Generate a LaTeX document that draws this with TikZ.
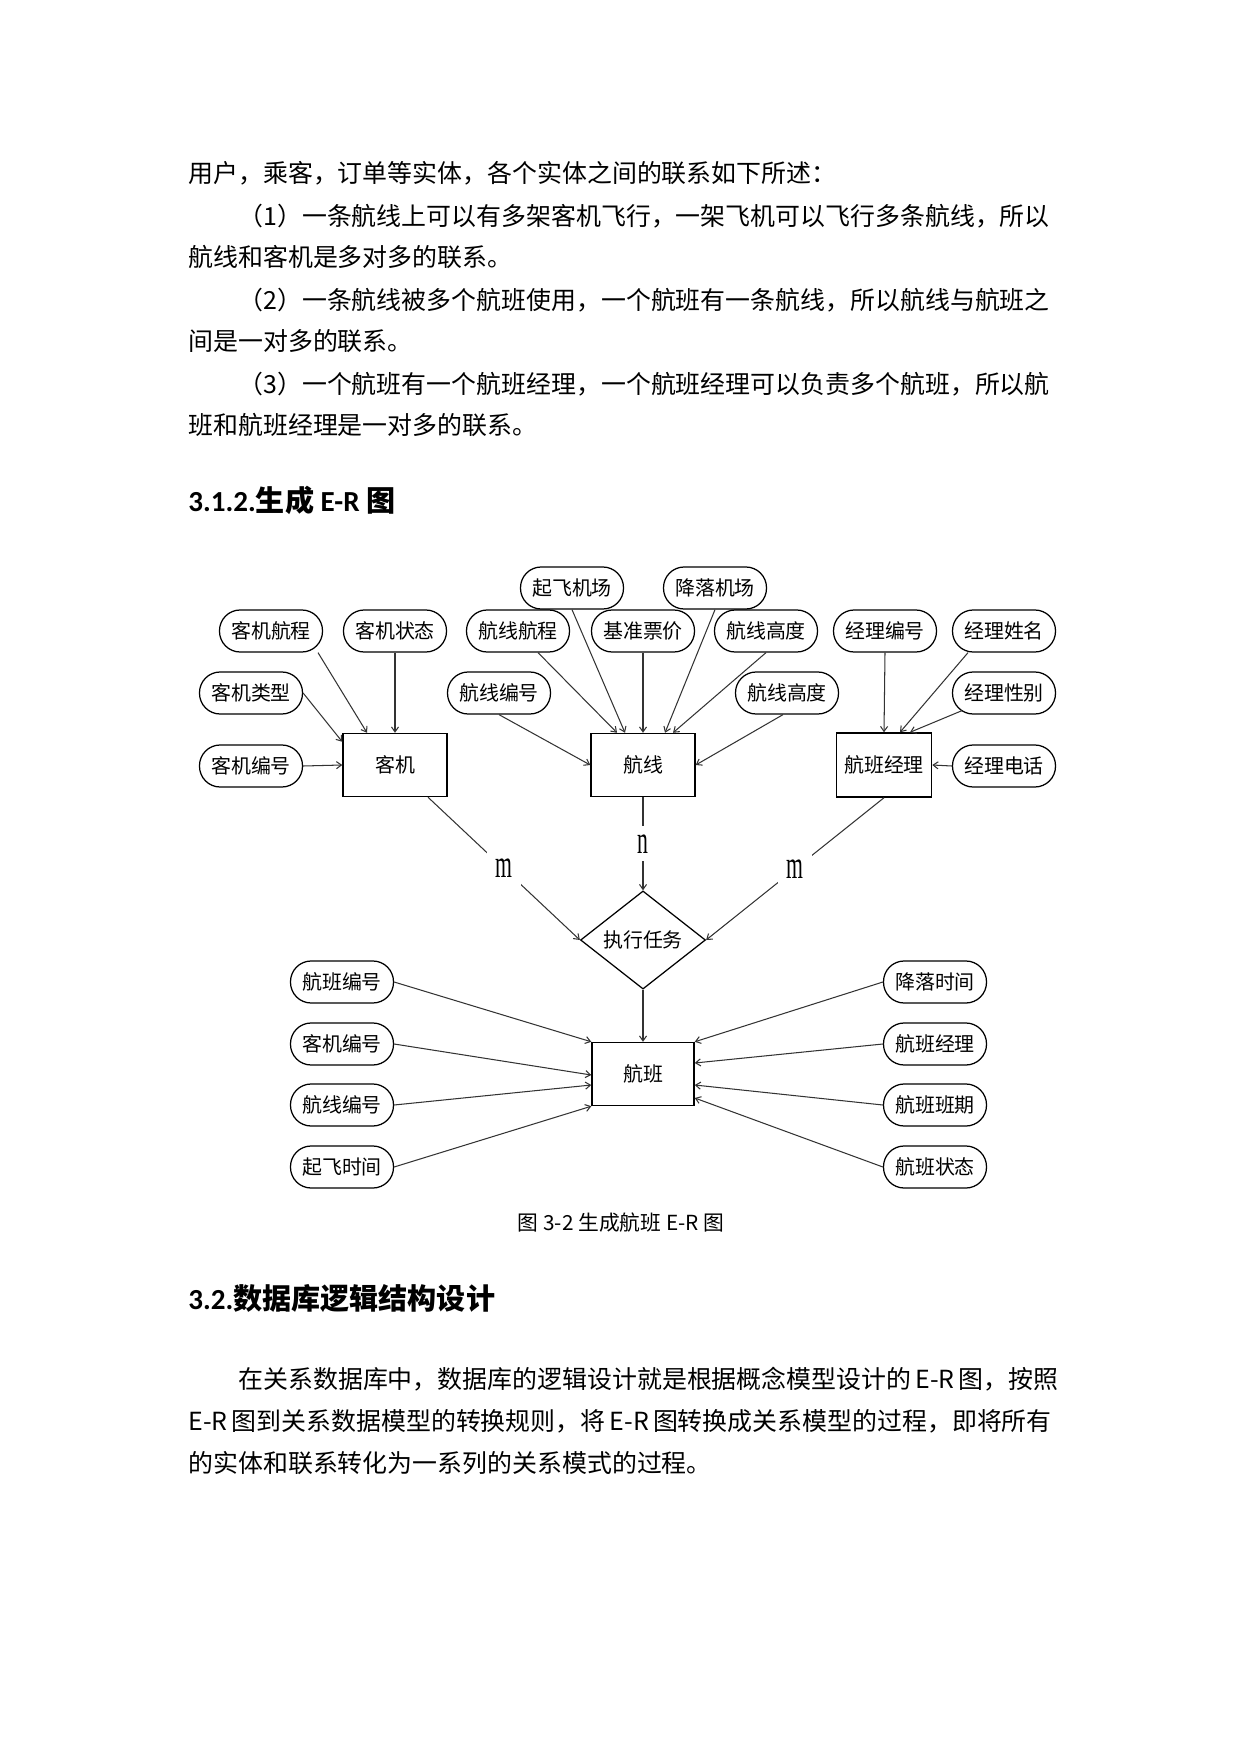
\documentclass[tikz,border=0pt]{standalone}
\usepackage{fontspec}
\usepackage{graphicx}
\setmainfont{Noto Sans CJK SC}
\newfontfamily\headfont{Carlito}
\newfontfamily\mnfont{Liberation Serif}
\usetikzlibrary{shapes.geometric,arrows.meta,calc}
\XeTeXlinebreaklocale "zh"
\XeTeXlinebreakskip=0pt plus 1pt
\newcommand\dgfont{\fontsize{9.6}{11}\selectfont}
\newcommand\mchar[1]{{\mnfont\fontsize{19}{19}\selectfont\scalebox{0.55}[1]{#1}}}
\newcommand\fullln[1]{\hbox to 146.2mm{#1}}
\newcommand\indln[1]{\hbox to 137.75mm{#1}}
\tikzset{
  para/.style={anchor=west, inner sep=0pt, font=\fontsize{12}{14}\selectfont},
  head/.style={anchor=west, inner sep=0pt, font=\fontsize{14}{17}\selectfont\bfseries},
  attr/.style={draw, rounded corners=3.5mm, minimum width=17.43mm, minimum height=7.11mm, inner sep=0pt, line width=0.6pt, font=\dgfont},
  ent/.style={draw, minimum width=17.6mm, minimum height=10.66mm, inner sep=0pt, line width=0.7pt, font=\dgfont},
  rel/.style={diamond, draw, minimum width=21.15mm, minimum height=13.54mm, inner sep=0pt, line width=0.6pt, font=\dgfont},
  card/.style={fill=white, inner sep=1.4mm},
  link/.style={->, line width=0.5pt, draw=black!80}
}
\begin{document}
\begin{tikzpicture}[x=0.16922mm, y=-0.16922mm, >={Straight Barb[length=2.4pt,width=3.4pt]}]
\useasboundingbox (0,0) rectangle (1241,1754);
\fill[white] (0,0) rectangle (1241,1754);

\node[para] (p1) at (188,173) {用户，乘客，订单等实体，各个实体之间的联系如下所述：};
\node[para] (p2) at (238,216) {\indln{（1）一条航线上可以有多架客机飞行，一架飞机可以飞行多条航线，所以}};
\node[para] (p3) at (188,257) {航线和客机是多对多的联系。};
\node[para] (p4) at (238,300) {\indln{（2）一条航线被多个航班使用，一个航班有一条航线，所以航线与航班之}};
\node[para] (p5) at (188,341) {间是一对多的联系。};
\node[para] (p6) at (238,384) {\indln{（3）一个航班有一个航班经理，一个航班经理可以负责多个航班，所以航}};
\node[para] (p7) at (188,425) {班和航班经理是一对多的联系。};
\node[head] (h1) at (188,500) {{\headfont 3.1.2.}生成 {\headfont E-R} 图};

% attributes, top
\node[attr] (qfjc) at (572,588) {起飞机场};
\node[attr] (jljc) at (715,588) {降落机场};
\node[attr] (kjhc) at (271,631) {客机航程};
\node[attr] (kjzt) at (395,631) {客机状态};
\node[attr] (hxhc) at (518,631) {航线航程};
\node[attr] (jzpj) at (643,631) {基准票价};
\node[attr] (hxgd) at (766,631) {航线高度};
\node[attr] (jlbh) at (885,631) {经理编号};
\node[attr] (jlxm) at (1004,631) {经理姓名};
\node[attr] (kjlx) at (251,693) {客机类型};
\node[attr] (hxbh) at (499,693) {航线编号};
\node[attr] (hxgd2) at (787,693) {航线高度};
\node[attr] (jlxb) at (1004,693) {经理性别};
\node[attr] (kjbh) at (251,766) {客机编号};
\node[attr] (jldh) at (1004,766) {经理电话};

% entities
\node[ent] (kj) at (395,765) {客机};
\node[ent] (hx) at (643,765) {航线};
\node[ent, minimum width=16.08mm, minimum height=10.83mm] (hbjl) at (884,765) {航班经理};
\node[rel] (rw) at (643,940) {执行任务};
\node[ent, minimum width=17.26mm] (hb) at (643,1074) {航班};

% attributes, bottom
\node[attr] (hbbh) at (342,982) {航班编号};
\node[attr] (kjbh2) at (342,1044) {客机编号};
\node[attr] (hxbh2) at (342,1105) {航线编号};
\node[attr] (qfsj) at (342,1167) {起飞时间};
\node[attr] (jlsj) at (935,982) {降落时间};
\node[attr] (hbjl2) at (935,1044) {航班经理};
\node[attr] (hbbq) at (935,1105) {航班班期};
\node[attr] (hbzt) at (935,1167) {航班状态};

\draw[link] ($(kjhc.south)+(47,0)$) -- ($(kj.north)+(-28,0)$);
\draw[link] (kjzt.south) -- (kj.north);
\draw[link] (kjlx.east) -- ($(kj.north west)+(0,9)$);
\draw[link] (kjbh.east) -- (kj.west);

\draw[link] (qfjc.south) -- ($(hx.north)+(-18,0)$);
\draw[link] ($(hxhc.south)+(20,0)$) -- ($(hx.north)+(-26,0)$);
\draw[link] (hxbh.south) -- (hx.west);
\draw[link] (jzpj.south) -- (hx.north);
\draw[link] (jljc.south) -- ($(hx.north)+(22,0)$);
\draw[link] (hxgd.south) -- ($(hx.north)+(30,0)$);
\draw[link] ($(hxgd2.south)+(-4,0)$) -- (hx.east);

\draw[link] (jlbh.south) -- (hbjl.north);
\draw[link] ($(jlxm.south)+(-36,0)$) -- ($(hbjl.north)+(16,0)$);
\draw[link] ($(jlxb.south)+(-42,-4)$) -- ($(hbjl.north)+(26,0)$);
\draw[link] (jldh.west) -- (hbjl.east);

\draw[link] ($(kj.south)+(33,0)$) -- node[card] {\mchar{m}} (rw.west);
\draw[link] (hx.south) -- node[card] {\mchar{n}} (rw.north);
\draw[link] (hbjl.south) -- node[card] {\mchar{m}} (rw.east);
\draw[link] (rw.south) -- (hb.north);

\draw[link] (hbbh.east) -- (hb.north west);
\draw[link] (kjbh2.east) -- ($(hb.west)+(0,1)$);
\draw[link] (hxbh2.east) -- ($(hb.west)+(0,11)$);
\draw[link] (qfsj.east) -- (hb.south west);
\draw[link] (jlsj.west) -- (hb.north east);
\draw[link] (hbjl2.west) -- ($(hb.east)+(0,-11)$);
\draw[link] (hbbq.west) -- ($(hb.east)+(0,11)$);
\draw[link] (hbzt.west) -- ($(hb.east)+(0,24)$);

\node[font=\fontsize{10}{12}\selectfont] (cap) at (621,1223) {图 3-2 生成航班 E-R 图};

\node[head] (h2) at (188,1298) {{\headfont 3.2.}数据库逻辑结构设计};
\node[para] (q1) at (238,1379) {\indln{在关系数据库中，数据库的逻辑设计就是根据概念模型设计的\,E-R\,图，按照}};
\node[para] (q2) at (188,1421) {\fullln{E-R\,图到关系数据模型的转换规则，将\,E-R\,图转换成关系模型的过程，即将所有}};
\node[para] (q3) at (188,1463) {的实体和联系转化为一系列的关系模式的过程。};
\end{tikzpicture}
\end{document}
